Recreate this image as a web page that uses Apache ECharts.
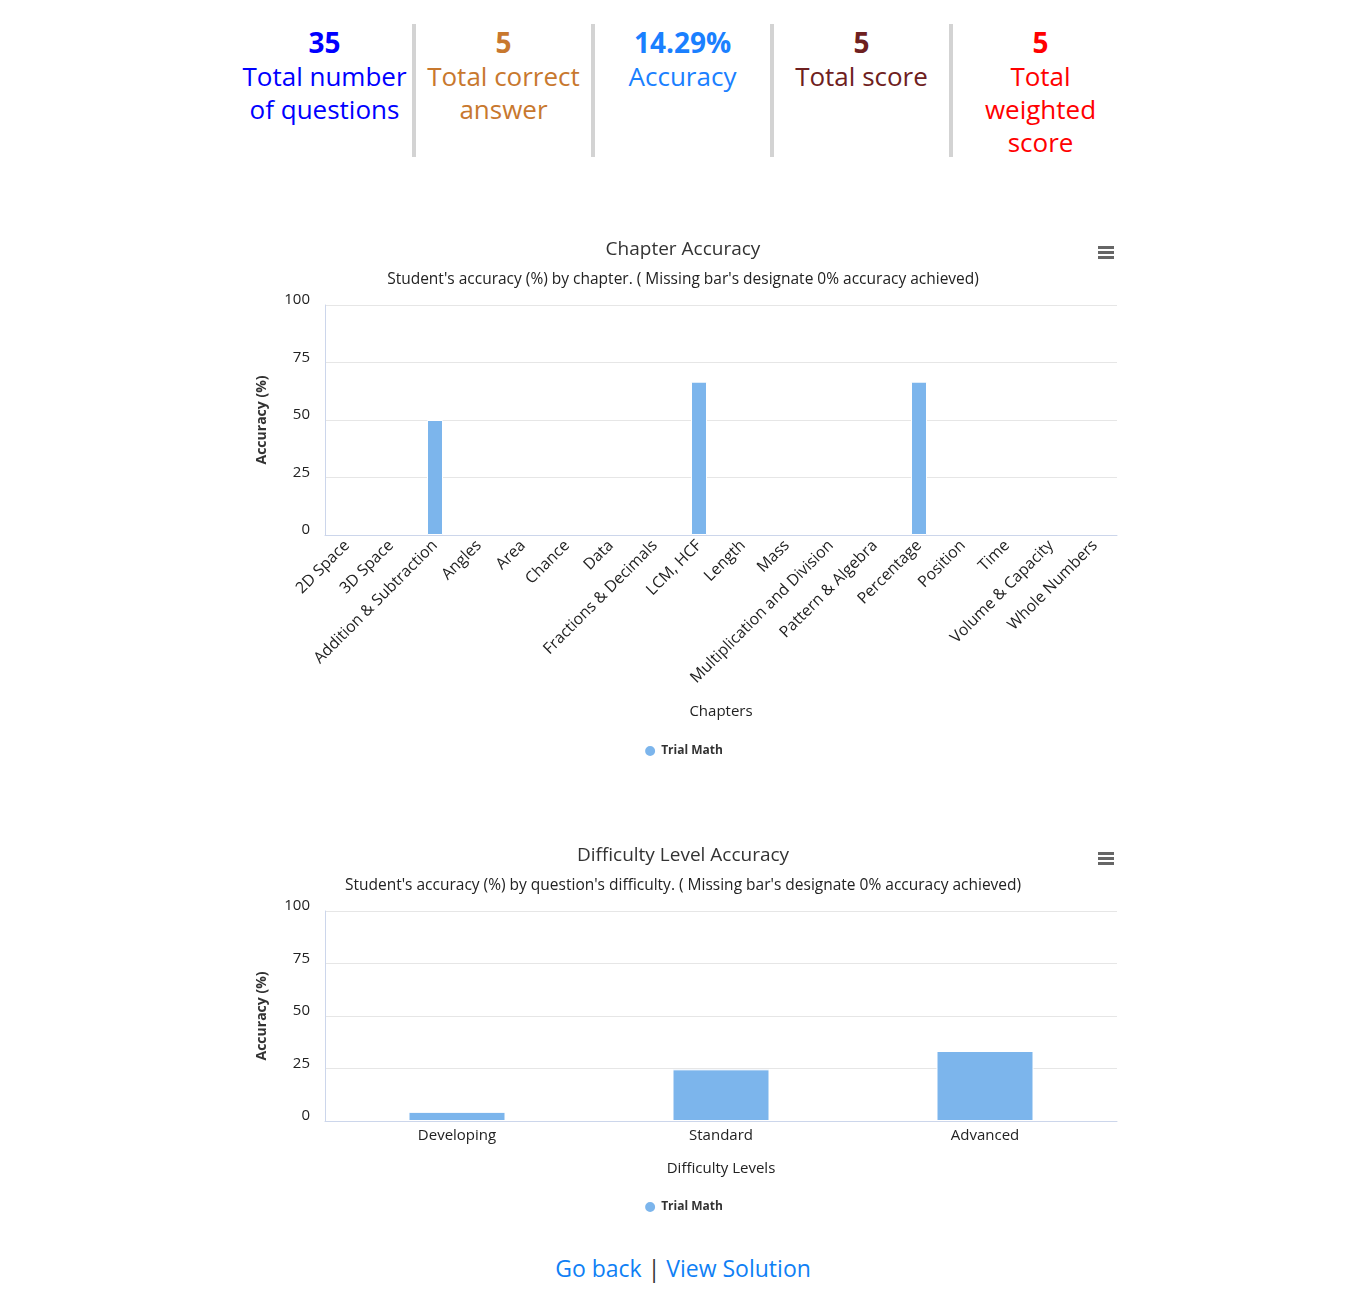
<!DOCTYPE html>
<html>
<head>
<meta charset="utf-8">
<script src="https://cdn.jsdelivr.net/npm/echarts@6/dist/echarts.min.js"></script>
<style>
  html, body { margin: 0; padding: 0; background: #fff; width: 1366px; height: 1289px; overflow: hidden; font-family: "Open Sans", "Noto Sans", sans-serif; }
  #stats { position: absolute; left: 237px; top: 24px; display: flex; }
  .stat { width: 175px; height: 133px; text-align: center; border-right: 4px solid #d3d3d3; }
  .stat:last-child { border-right: none; }
  .num { font-size: 28px; font-weight: bold; line-height: 36px; margin-top: 0px; }
  .lbl { font-size: 26px; line-height: 33px; }
  .chart { position: absolute; left: 240px; width: 886px; }
  #links { position: absolute; left: 0; width: 1366px; top: 1252px; text-align: center; font-size: 23px; }
  #links a { color: #0f7ff5; text-decoration: none; }
  #links span { color: #333; }
</style>
</head>
<body>
<div id="stats">
  <div class="stat" style="color:#0000ff"><div class="num">35</div><div class="lbl">Total number of questions</div></div>
  <div class="stat" style="color:#c8782e"><div class="num">5</div><div class="lbl">Total correct answer</div></div>
  <div class="stat" style="color:#1a80ff"><div class="num">14.29%</div><div class="lbl">Accuracy</div></div>
  <div class="stat" style="color:#6e2020"><div class="num">5</div><div class="lbl">Total score</div></div>
  <div class="stat" style="color:#ff0000"><div class="num">5</div><div class="lbl">Total weighted score</div></div>
</div>
<div id="c1" class="chart" style="top:225px;height:560px;"></div>
<div id="c2" class="chart" style="top:830px;height:400px;"></div>
<div id="links"><a href="#">Go back</a> <span>|</span> <a href="#">View Solution</a></div>
<script>
const chapters = ["2D Space","3D Space","Addition & Subtraction","Angles","Area","Chance","Data","Fractions & Decimals","LCM, HCF","Length","Mass","Multiplication and Division","Pattern & Algebra","Percentage","Position","Time","Volume & Capacity","Whole Numbers"];
const chapterAccuracy = [null,null,50,null,null,null,null,null,66.67,null,null,null,null,66.67,null,null,null,null];
const levels = ["Developing","Standard","Advanced"];
const levelAccuracy = [4.35,24.6,33.33];
const yTicks = [0,25,50,75,100];
const seriesName = "Trial Math";

const FONT = "'Open Sans', 'Noto Sans', sans-serif";
const BAR = "#7cb5ec";

function menuIcon() {
  return {
    type: 'group', right: 12, top: 0,
    children: [0, 5, 10].map(function (dy) {
      return { type: 'rect', shape: { x: 0, y: dy, width: 16, height: 3 }, style: { fill: '#666' } };
    })
  };
}

function makeOption(cfg) {
  return {
    animation: false,
    textStyle: { fontFamily: FONT },
    title: [
      { text: cfg.title, left: 'center', top: cfg.titleTop, textStyle: { fontSize: 19, fontWeight: 'normal', color: '#333', fontFamily: FONT } },
      { text: cfg.subtitle, left: 'center', top: cfg.subTop, textStyle: { fontSize: 15.5, fontWeight: 'normal', color: '#222', fontFamily: FONT } }
    ],
    graphic: [Object.assign(menuIcon(), { top: cfg.menuTop })],
    legend: {
      data: [seriesName], top: cfg.legendTop, left: 'center', icon: 'circle', itemWidth: 12, itemHeight: 12, itemGap: 6,
      textStyle: { fontSize: 12, fontWeight: 'bold', color: '#333', fontFamily: FONT }
    },
    grid: { left: 85, right: 9, top: cfg.gridTop, height: cfg.gridHeight },
    xAxis: {
      type: 'category', data: cfg.categories,
      name: cfg.xName, nameLocation: 'middle', nameGap: cfg.xNameGap,
      nameTextStyle: { fontSize: 15, color: '#222', fontFamily: FONT },
      axisLine: { lineStyle: { color: '#ccd6eb' } },
      axisTick: { show: false },
      axisLabel: { rotate: cfg.rotate, fontSize: cfg.xLabelSize, color: '#222', margin: cfg.labelMargin, interval: 0, fontFamily: FONT }
    },
    yAxis: {
      type: 'value', min: 0, max: 100, interval: 25,
      name: 'Accuracy (%)', nameLocation: 'middle', nameGap: 56,
      nameTextStyle: { fontSize: 14, fontWeight: 'bold', color: '#333', fontFamily: FONT },
      axisLine: { show: true, lineStyle: { color: '#ccd6eb' } },
      axisTick: { show: false },
      axisLabel: { fontSize: 15, color: '#222', margin: 15, verticalAlign: 'bottom', lineHeight: 10, fontFamily: FONT, formatter: function (v) { return yTicks.indexOf(v) >= 0 ? String(v) : ''; } },
      splitLine: { lineStyle: { color: '#e6e6e6' } }
    },
    series: [{
      name: seriesName, type: 'bar', data: cfg.values, barWidth: cfg.barWidth,
      itemStyle: { color: BAR, borderColor: '#fff', borderWidth: 1 }
    }]
  };
}

const c1 = echarts.init(document.getElementById('c1'));
c1.setOption(makeOption({
  title: 'Chapter Accuracy', titleTop: 10,
  subtitle: "Student's accuracy (%) by chapter. ( Missing bar's designate 0% accuracy achieved)", subTop: 42,
  menuTop: 21, legendTop: 514, gridTop: 80, gridHeight: 230,
  categories: chapters, values: chapterAccuracy, xName: 'Chapters', xNameGap: 169,
  rotate: 45, labelMargin: 8, barWidth: 16, xLabelSize: 15.8
}));

const c2 = echarts.init(document.getElementById('c2'));
c2.setOption(makeOption({
  title: 'Difficulty Level Accuracy', titleTop: 11,
  subtitle: "Student's accuracy (%) by question's difficulty. ( Missing bar's designate 0% accuracy achieved)", subTop: 43,
  menuTop: 22, legendTop: 365, gridTop: 81, gridHeight: 210,
  categories: levels, values: levelAccuracy, xName: 'Difficulty Levels', xNameGap: 40,
  rotate: 0, labelMargin: 7, barWidth: 97, xLabelSize: 15
}));
</script>
</body>
</html>
